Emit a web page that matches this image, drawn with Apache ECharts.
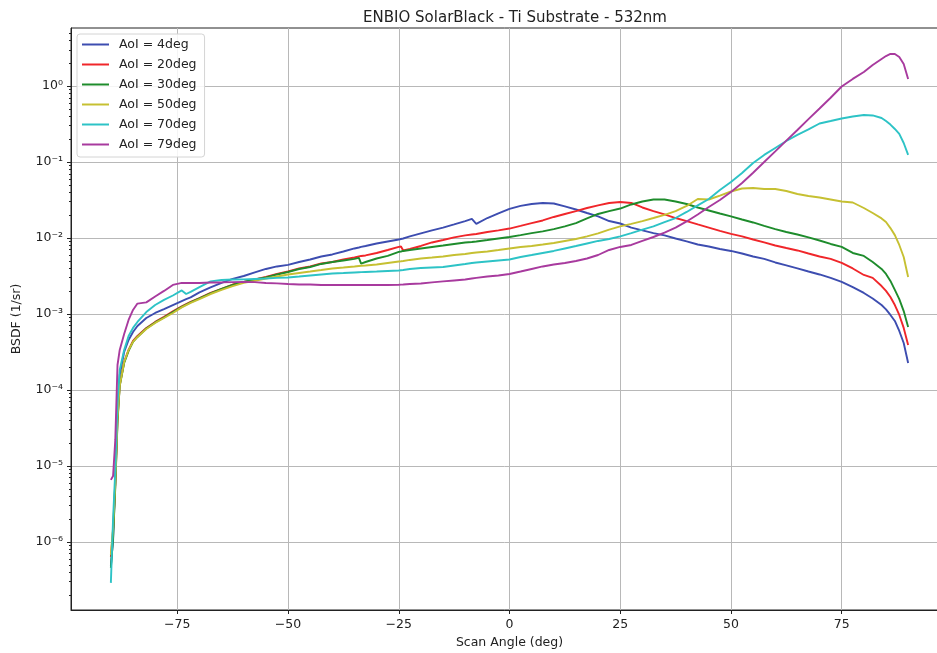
<!DOCTYPE html>
<html lang="en">
<head>
    <meta charset="UTF-8">
    <title>ENBIO SolarBlack - Ti Substrate - 532nm</title>
    <script src="https://cdn.jsdelivr.net/npm/echarts@6/dist/echarts.min.js"></script>
    <style>
        html, body { margin: 0; padding: 0; background: #fff; }
        #chart { width: 937px; height: 653px; }
    </style>
</head>
<body>
<div id="chart"></div>
<script type="text/javascript">
    // scan angle (deg), shared by every curve
    var angles = [
        -90, -89.5, -89, -88.5, -88, -87, -86, -85, -84, -82,
        -80, -78, -76, -74, -73, -72, -70, -67.5, -65, -62.5,
        -60, -57.5, -55, -52.5, -50, -47.5, -45, -42.5, -40, -37.5,
        -35, -34, -33.5, -32.5, -30, -27.5, -25, -24.5, -24, -22.5,
        -20, -17.5, -15, -12.5, -10, -8.5, -7.5, -5, -2.5, 0,
        2.5, 5, 7.5, 10, 12.5, 15, 17.5, 20, 22.5, 25,
        27.5, 30, 32.5, 35, 37.5, 40, 42.5, 45, 47.5, 50,
        52.5, 55, 57.5, 60, 62.5, 65, 67.5, 70, 72.5, 75,
        77.5, 80, 82, 84, 85, 86, 87, 88, 89, 90
    ];

    // BSDF (1/sr) for each angle of incidence
    var aoi4 = [
        4.83e-7, 1.06e-6, 6.55e-6, 5.46e-5, 1.57e-4, 3.16e-4, 4.55e-4, 5.79e-4, 6.95e-4, 8.85e-4,
        1.03e-3, 1.16e-3, 1.31e-3, 1.48e-3, 1.57e-3, 1.65e-3, 1.92e-3, 2.23e-3, 2.56e-3, 2.89e-3,
        3.16e-3, 3.52e-3, 3.91e-3, 4.22e-3, 4.42e-3, 4.83e-3, 5.21e-3, 5.71e-3, 6.07e-3, 6.64e-3,
        7.28e-3, 7.50e-3, 7.62e-3, 7.85e-3, 8.47e-3, 9.00e-3, 9.55e-3, 9.70e-3, 9.85e-3, 1.05e-2,
        1.15e-2, 1.26e-2, 1.37e-2, 1.51e-2, 1.67e-2, 1.78e-2, 1.53e-2, 1.83e-2, 2.10e-2, 2.41e-2,
        2.64e-2, 2.80e-2, 2.89e-2, 2.84e-2, 2.60e-2, 2.37e-2, 2.13e-2, 1.92e-2, 1.67e-2, 1.55e-2,
        1.37e-2, 1.26e-2, 1.16e-2, 1.08e-2, 9.85e-3, 9.00e-3, 8.20e-3, 7.73e-3, 7.16e-3, 6.75e-3,
        6.25e-3, 5.71e-3, 5.30e-3, 4.76e-3, 4.35e-3, 3.97e-3, 3.62e-3, 3.31e-3, 2.98e-3, 2.64e-3,
        2.26e-3, 1.89e-3, 1.60e-3, 1.31e-3, 1.15e-3, 9.70e-4, 8.09e-4, 5.97e-4, 4.15e-4, 2.26e-4
    ];
    var aoi20 = [
        6.35e-7, 1.44e-6, 5.62e-6, 4.03e-5, 1.16e-4, 2.33e-4, 3.36e-4, 4.42e-4, 5.14e-4, 6.55e-4,
        7.85e-4, 9.14e-4, 1.08e-3, 1.26e-3, 1.35e-3, 1.44e-3, 1.62e-3, 1.89e-3, 2.13e-3, 2.44e-3,
        2.64e-3, 2.84e-3, 3.07e-3, 3.36e-3, 3.62e-3, 3.97e-3, 4.22e-3, 4.61e-3, 4.83e-3, 5.21e-3,
        5.53e-3, 5.71e-3, 5.80e-3, 5.89e-3, 6.35e-3, 6.95e-3, 7.62e-3, 7.73e-3, 6.85e-3, 7.16e-3,
        7.85e-3, 8.73e-3, 9.41e-3, 1.02e-2, 1.08e-2, 1.11e-2, 1.13e-2, 1.20e-2, 1.26e-2, 1.33e-2,
        1.44e-2, 1.57e-2, 1.70e-2, 1.89e-2, 2.07e-2, 2.26e-2, 2.48e-2, 2.68e-2, 2.89e-2, 2.98e-2,
        2.89e-2, 2.52e-2, 2.26e-2, 2.04e-2, 1.83e-2, 1.67e-2, 1.51e-2, 1.37e-2, 1.24e-2, 1.13e-2,
        1.05e-2, 9.55e-3, 8.73e-3, 7.96e-3, 7.38e-3, 6.85e-3, 6.25e-3, 5.71e-3, 5.30e-3, 4.69e-3,
        3.97e-3, 3.26e-3, 2.98e-3, 2.33e-3, 2.01e-3, 1.67e-3, 1.31e-3, 9.70e-4, 6.55e-4, 3.91e-4
    ];
    var aoi30 = [
        4.55e-7, 1.13e-6, 5.30e-6, 3.79e-5, 1.13e-4, 2.26e-4, 3.26e-4, 4.29e-4, 4.98e-4, 6.44e-4,
        7.73e-4, 8.99e-4, 1.06e-3, 1.24e-3, 1.33e-3, 1.42e-3, 1.60e-3, 1.86e-3, 2.13e-3, 2.41e-3,
        2.64e-3, 2.84e-3, 3.02e-3, 3.31e-3, 3.57e-3, 3.91e-3, 4.15e-3, 4.55e-3, 4.83e-3, 5.06e-3,
        5.30e-3, 5.46e-3, 4.61e-3, 4.83e-3, 5.37e-3, 5.80e-3, 6.55e-3, 6.64e-3, 6.75e-3, 6.95e-3,
        7.28e-3, 7.62e-3, 7.96e-3, 8.34e-3, 8.73e-3, 8.86e-3, 9.00e-3, 9.41e-3, 9.85e-3, 1.03e-2,
        1.09e-2, 1.16e-2, 1.22e-2, 1.31e-2, 1.42e-2, 1.57e-2, 1.81e-2, 2.07e-2, 2.26e-2, 2.44e-2,
        2.76e-2, 3.02e-2, 3.21e-2, 3.21e-2, 3.02e-2, 2.80e-2, 2.52e-2, 2.30e-2, 2.10e-2, 1.92e-2,
        1.75e-2, 1.60e-2, 1.44e-2, 1.31e-2, 1.20e-2, 1.11e-2, 1.02e-2, 9.27e-3, 8.34e-3, 7.62e-3,
        6.35e-3, 5.80e-3, 4.83e-3, 3.91e-3, 3.36e-3, 2.72e-3, 2.07e-3, 1.57e-3, 1.09e-3, 6.75e-4
    ];
    var aoi50 = [
        6.75e-7, 1.53e-6, 6.15e-6, 4.29e-5, 1.13e-4, 2.33e-4, 3.36e-4, 4.29e-4, 4.98e-4, 6.35e-4,
        7.62e-4, 8.85e-4, 1.03e-3, 1.22e-3, 1.31e-3, 1.40e-3, 1.57e-3, 1.83e-3, 2.07e-3, 2.33e-3,
        2.56e-3, 2.72e-3, 2.93e-3, 3.11e-3, 3.31e-3, 3.46e-3, 3.62e-3, 3.79e-3, 3.97e-3, 4.09e-3,
        4.22e-3, 4.28e-3, 4.31e-3, 4.35e-3, 4.48e-3, 4.69e-3, 4.91e-3, 4.94e-3, 4.98e-3, 5.14e-3,
        5.37e-3, 5.53e-3, 5.71e-3, 5.97e-3, 6.15e-3, 6.35e-3, 6.45e-3, 6.64e-3, 6.95e-3, 7.28e-3,
        7.62e-3, 7.85e-3, 8.20e-3, 8.60e-3, 9.14e-3, 9.70e-3, 1.05e-2, 1.15e-2, 1.29e-2, 1.42e-2,
        1.53e-2, 1.67e-2, 1.83e-2, 2.01e-2, 2.26e-2, 2.64e-2, 3.26e-2, 3.21e-2, 3.62e-2, 4.09e-2,
        4.48e-2, 4.55e-2, 4.41e-2, 4.41e-2, 4.15e-2, 3.79e-2, 3.57e-2, 3.41e-2, 3.21e-2, 3.02e-2,
        2.93e-2, 2.48e-2, 2.13e-2, 1.81e-2, 1.62e-2, 1.35e-2, 1.09e-2, 8.09e-3, 5.62e-3, 3.07e-3
    ];
    var aoi70 = [
        2.89e-7, 2.00e-6, 8.85e-6, 6.75e-5, 1.83e-4, 3.36e-4, 5.14e-4, 6.55e-4, 7.85e-4, 1.06e-3,
        1.31e-3, 1.53e-3, 1.75e-3, 2.04e-3, 1.83e-3, 1.95e-3, 2.26e-3, 2.68e-3, 2.80e-3, 2.84e-3,
        2.85e-3, 2.89e-3, 2.93e-3, 2.98e-3, 3.02e-3, 3.11e-3, 3.21e-3, 3.31e-3, 3.41e-3, 3.46e-3,
        3.52e-3, 3.54e-3, 3.55e-3, 3.57e-3, 3.62e-3, 3.68e-3, 3.73e-3, 3.76e-3, 3.79e-3, 3.91e-3,
        4.03e-3, 4.09e-3, 4.15e-3, 4.35e-3, 4.55e-3, 4.69e-3, 4.76e-3, 4.91e-3, 5.06e-3, 5.21e-3,
        5.62e-3, 5.97e-3, 6.35e-3, 6.75e-3, 7.28e-3, 7.85e-3, 8.47e-3, 9.14e-3, 9.70e-3, 1.05e-2,
        1.16e-2, 1.29e-2, 1.42e-2, 1.62e-2, 1.83e-2, 2.20e-2, 2.68e-2, 3.26e-2, 4.29e-2, 5.46e-2,
        7.16e-2, 9.70e-2, 0.124, 0.153, 0.189, 0.227, 0.268, 0.321, 0.346, 0.374,
        0.397, 0.415, 0.410, 0.379, 0.346, 0.311, 0.272, 0.234, 0.178, 0.124
    ];
    var aoi79 = [
        6.55e-6, 7.38e-6, 2.20e-5, 2.13e-4, 3.36e-4, 5.46e-4, 8.34e-4, 1.13e-3, 1.37e-3, 1.42e-3,
        1.70e-3, 2.01e-3, 2.41e-3, 2.56e-3, 2.56e-3, 2.56e-3, 2.56e-3, 2.59e-3, 2.60e-3, 2.62e-3,
        2.64e-3, 2.62e-3, 2.56e-3, 2.53e-3, 2.48e-3, 2.44e-3, 2.44e-3, 2.41e-3, 2.41e-3, 2.41e-3,
        2.41e-3, 2.41e-3, 2.41e-3, 2.41e-3, 2.41e-3, 2.41e-3, 2.42e-3, 2.43e-3, 2.44e-3, 2.48e-3,
        2.52e-3, 2.60e-3, 2.68e-3, 2.76e-3, 2.84e-3, 2.93e-3, 2.98e-3, 3.11e-3, 3.21e-3, 3.36e-3,
        3.62e-3, 3.91e-3, 4.22e-3, 4.48e-3, 4.69e-3, 4.98e-3, 5.37e-3, 5.97e-3, 6.95e-3, 7.62e-3,
        8.09e-3, 9.14e-3, 1.03e-2, 1.18e-2, 1.37e-2, 1.65e-2, 2.04e-2, 2.56e-2, 3.16e-2, 4.03e-2,
        5.30e-2, 7.23e-2, 0.100, 0.138, 0.191, 0.264, 0.366, 0.506, 0.700, 0.985,
        1.24, 1.53, 1.89, 2.27, 2.48, 2.64, 2.64, 2.41, 1.95, 1.24
    ];

    var seriesNames = ['AoI = 4deg', 'AoI = 20deg', 'AoI = 30deg', 'AoI = 50deg', 'AoI = 70deg', 'AoI = 79deg'];
    var seriesColors = ['#3d4db0', '#f0262a', '#1e8c2c', '#c6c032', '#2dc3c6', '#a83a9e'];
    var seriesValues = [aoi4, aoi20, aoi30, aoi50, aoi70, aoi79];

    // axis ticks
    var xTicks = [-75, -50, -25, 0, 25, 50, 75];
    var yTicks = [1e-6, 1e-5, 1e-4, 1e-3, 1e-2, 1e-1, 1];
    var yMin = 1.27e-7, yMax = 5.8;

    // log minor ticks (2..9 per decade) inside the axis range
    var yMinorTicks = [];
    for (var k = -7; k <= 0; k++) {
        for (var m = 2; m <= 9; m++) {
            var v = +(m * Math.pow(10, k)).toPrecision(3);
            if (v >= yMin && v <= yMax) yMinorTicks.push(v);
        }
    }

    var fontFamily = 'DejaVu Sans';
    var inkColor = '#222';
    var supDigits = { '0': '\u2070', '1': '\u00b9', '2': '\u00b2', '3': '\u00b3', '4': '\u2074',
        '5': '\u2075', '6': '\u2076', '7': '\u2077', '8': '\u2078', '9': '\u2079', '-': '\u207b' };

    function powerLabel(val) {
        var e = String(Math.round(Math.log(val) / Math.LN10));
        var s = '';
        for (var i = 0; i < e.length; i++) s += supDigits[e.charAt(i)];
        return '10' + s;
    }

    var myChart = echarts.init(document.getElementById('chart'));

    var series = seriesValues.map(function (vals, i) {
        return {
            name: seriesNames[i],
            type: 'line',
            data: angles.map(function (a, j) { return [a, vals[j]]; }),
            symbol: 'none',
            showSymbol: false,
            lineStyle: { width: 1.9, color: seriesColors[i] },
            itemStyle: { color: seriesColors[i] },
            z: 3 + i
        };
    });

    var option = {
        animation: false,
        backgroundColor: '#fff',
        title: {
            text: 'ENBIO SolarBlack - Ti Substrate - 532nm',
            left: 510,
            top: 6,
            textAlign: 'center',
            textStyle: { fontFamily: fontFamily, fontSize: 15, fontWeight: 'normal', color: inkColor }
        },
        legend: {
            orient: 'vertical',
            left: 77,
            top: 34,
            icon: 'rect',
            itemWidth: 27,
            itemHeight: 2,
            itemGap: 7,
            padding: [4, 8, 6, 5],
            backgroundColor: 'rgba(255,255,255,0.85)',
            borderColor: '#d4d4d4',
            borderWidth: 1,
            borderRadius: 3,
            textStyle: { fontFamily: fontFamily, fontSize: 12.5, color: inkColor, padding: [0, 0, 0, 5] },
            data: seriesNames
        },
        grid: {
            left: 71,
            top: 28,
            width: 877,
            height: 582,
            containLabel: false,
            outerBoundsMode: 'none',
            show: true,
            borderColor: inkColor,
            borderWidth: 1
        },
        xAxis: {
            type: 'value',
            min: -99,
            max: 99,
            name: 'Scan Angle (deg)',
            nameLocation: 'middle',
            nameGap: 24,
            nameTextStyle: { fontFamily: fontFamily, fontSize: 12.5, color: inkColor },
            axisLine: { onZero: false, lineStyle: { color: inkColor, width: 1 } },
            axisTick: { customValues: xTicks, length: 4, lineStyle: { color: inkColor } },
            axisLabel: {
                customValues: xTicks,
                margin: 8,
                fontFamily: fontFamily,
                fontSize: 12.5,
                color: inkColor,
                formatter: function (v) { return v < 0 ? '\u2212' + (-v) : String(v); }
            },
            splitLine: { show: true, lineStyle: { color: '#b8b8b8', width: 1 } }
        },
        yAxis: [{
            type: 'log',
            logBase: 10,
            min: yMin,
            max: yMax,
            position: 'left',
            name: 'BSDF (1/sr)',
            nameLocation: 'middle',
            nameGap: 48,
            nameTextStyle: { fontFamily: fontFamily, fontSize: 12.5, color: inkColor },
            axisLine: { show: true, onZero: false, lineStyle: { color: inkColor, width: 1 } },
            axisTick: { customValues: yTicks, length: 4, lineStyle: { color: inkColor } },
            axisLabel: {
                customValues: yTicks,
                margin: 8,
                fontFamily: fontFamily,
                fontSize: 12.5,
                color: inkColor,
                formatter: powerLabel
            },
            splitLine: { show: true, lineStyle: { color: '#b8b8b8', width: 1 } }
        }, {
            type: 'log',
            logBase: 10,
            min: yMin,
            max: yMax,
            position: 'left',
            axisLine: { show: false, onZero: false },
            axisTick: { show: true, customValues: yMinorTicks, length: 2, lineStyle: { color: inkColor } },
            axisLabel: { show: false },
            splitLine: { show: false }
        }],
        series: series
    };

    myChart.setOption(option);
</script>
</body>
</html>
